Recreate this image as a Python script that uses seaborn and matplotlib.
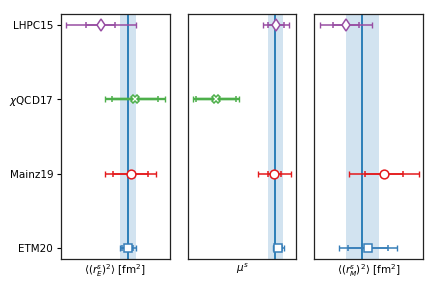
import numpy as np
import pandas as pd
import matplotlib
matplotlib.use("Agg")
import matplotlib.pyplot as plt
import seaborn as sns

sns.set_style("ticks")
plt.rcParams['font.family'] = ['DejaVu Sans']

# collaborations, bottom to top
labels = ['ETM20', 'Mainz19', r'$\chi$QCD17', 'LHPC15']
markers = ['s', 'o', 'X', 'd']
pal = sns.color_palette("Set1")
colors = [pal[1], pal[0], pal[2], pal[3]]

# <(r_E^s)^2> [fm^2]: central, stat, total
rE_val = [-0.0048, -0.0044, -0.0038, -0.0086]
rE_stat = [0.0008, 0.0024, 0.0032, 0.0020]
rE_tot = [0.0011, 0.0036, 0.0042, 0.0049]
rE_avg, rE_band = -0.0048, 0.0011

# mu^s
mu_val = [-0.058, -0.078, -0.373, -0.068]
mu_stat = [0.020, 0.033, 0.100, 0.040]
mu_tot = [0.028, 0.083, 0.115, 0.065]
mu_avg, mu_band = -0.073, 0.0375

# <(r_M^s)^2> [fm^2] (no chiQCD17 entry)
rM_val = [-0.0050, -0.0018, np.nan, -0.0094]
rM_stat = [0.0040, 0.0038, np.nan, 0.0026]
rM_tot = [0.0058, 0.0069, np.nan, 0.0052]
rM_avg, rM_band = -0.0061, 0.0033

panels = [
    (rE_val, rE_stat, rE_tot, rE_avg, rE_band, (-0.0142, 0.0011),
     r'$\langle (r_E^s)^2\rangle$ [fm$^2$]'),
    (mu_val, mu_stat, mu_tot, mu_avg, mu_band, (-0.513, 0.032),
     r'$\mu^s$'),
    (rM_val, rM_stat, rM_tot, rM_avg, rM_band, (-0.0157, 0.0060),
     r'$\langle (r_M^s)^2\rangle$ [fm$^2$]'),
]

fig, axes = plt.subplots(1, 3, figsize=(4.38, 2.92), dpi=100, sharey=True)
fig.subplots_adjust(left=0.139, right=0.966, bottom=0.113, top=0.952, wspace=0.165)

ypos = np.arange(len(labels))
for ax, (val, stat, tot, avg, band, xl, xlab) in zip(axes, panels):
    ax.axvspan(avg - band, avg + band, color='#1f77b4', alpha=0.2, lw=0, zorder=0)
    ax.axvline(avg, color='#1f77b4', lw=1.3, zorder=1)
    for i in range(len(labels)):
        if np.isnan(val[i]):
            continue
        lw = 1.7 if i == 2 else 1.1
        ax.errorbar(val[i], ypos[i], xerr=tot[i], color=colors[i], lw=lw,
                    capsize=2, capthick=1.0, fmt='none', zorder=2)
        ax.errorbar(val[i], ypos[i], xerr=stat[i], color=colors[i], lw=lw,
                    capsize=2, capthick=1.0, fmt=markers[i], ms=6.3,
                    mfc='white', mec=colors[i], mew=1.1, zorder=3)
    ax.set_xlim(*xl)
    ax.set_ylim(-0.15, 3.15)
    ax.set_xlabel(xlab, fontsize=7.5, labelpad=2, color='black')
    ax.tick_params(axis='x', bottom=False, labelbottom=False)
    for s in ax.spines.values():
        s.set_visible(True)
        s.set_color('#222222')
        s.set_linewidth(0.9)

axes[0].set_yticks(ypos)
axes[0].set_yticklabels(labels, fontsize=7.5)
axes[0].tick_params(axis='y', length=3, width=0.8, pad=2.5, colors='black')
for ax in axes[1:]:
    ax.tick_params(axis='y', left=False, labelleft=False)

fig.savefig("out.png", dpi=100)
